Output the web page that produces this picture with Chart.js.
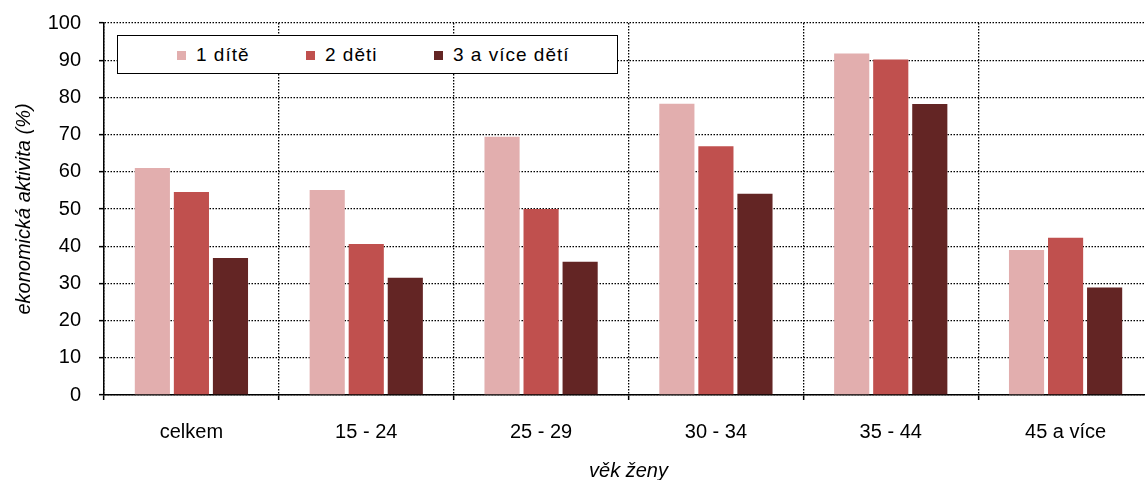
<!DOCTYPE html>
<html>
<head>
<meta charset="utf-8">
<script src="https://cdn.jsdelivr.net/npm/chart.js@4"></script>
<style>
  html, body { margin: 0; padding: 0; background: #fff; overflow: hidden; width: 1145px; height: 480px; }
  #wrap { position: relative; width: 1160px; height: 480px; }
  canvas { display: block; }
  #legend { position: absolute; left: 117px; top: 35px; width: 499px; height: 37px;
    border: 1.5px solid #000; background: #fff; font-family: "Liberation Sans", Arial, sans-serif;
    font-size: 19px; color: #000; }
  .item { position: absolute; top: 0; height: 37px; display: flex; align-items: center; letter-spacing: 1px; white-space: nowrap; }
  .sw { width: 9px; height: 9px; margin-right: 10px; margin-top: 2px; }
</style>
</head>
<body>
<div id="wrap">
  <canvas id="c" width="1160" height="480"></canvas>
  <div id="legend"></div>
</div>
<script>
const categories = ['celkem', '15 - 24', '25 - 29', '30 - 34', '35 - 44', '45 a více'];
const seriesNames = ['1 dítě', '2 děti', '3 a více dětí'];
const oneChild = [61.0, 55.1, 69.4, 78.3, 91.8, 39.0];
const twoChildren = [54.6, 40.6, 50.0, 66.9, 90.2, 42.3];
const threePlus = [36.8, 31.5, 35.8, 54.1, 78.2, 28.9];
const yTicks = [0, 10, 20, 30, 40, 50, 60, 70, 80, 90, 100];
const colors = ['#E2AEAE', '#C0504E', '#632524'];

Chart.defaults.font.family = '"Liberation Sans", Arial, sans-serif';
Chart.defaults.color = '#000';

const bg = {
  id: 'bg',
  beforeDraw(chart) {
    const ctx = chart.ctx;
    ctx.save();
    ctx.fillStyle = '#fff';
    ctx.fillRect(0, 0, chart.width, chart.height);
    ctx.restore();
  }
};

const values = [oneChild, twoChildren, threePlus];
new Chart(document.getElementById('c'), {
  type: 'bar',
  data: {
    labels: categories,
    datasets: seriesNames.map((n, i) => ({
      label: n,
      data: values[i],
      backgroundColor: colors[i],
      borderWidth: 0,
      categoryPercentage: 0.67,
      barPercentage: 0.9
    }))
  },
  options: {
    responsive: false,
    animation: false,
    devicePixelRatio: 1,
    layout: { padding: { top: 23, right: 7, left: 0, bottom: 0 } },
    plugins: { legend: { display: false }, tooltip: { enabled: false } },
    scales: {
      x: {
        offset: true,
        grid: { offset: true, color: '#000', lineWidth: 1.3, tickLength: 5, tickColor: '#000', tickWidth: 1.5, tickBorderDash: [] },
        border: { display: true, color: '#000', width: 1.5, dash: [1.5, 1.5] },
        ticks: { font: { size: 20 }, padding: 20, maxRotation: 0, autoSkip: false },
        title: { display: true, text: 'věk ženy', font: { size: 20, style: 'italic', lineHeight: 0.9 }, padding: { top: 0, bottom: 0 } },
        afterFit(s) { s.height = 85; s.paddingLeft = 0; s.paddingRight = 0; }
      },
      y: {
        min: 0, max: 100,
        afterBuildTicks(s) { s.ticks = yTicks.map(v => ({ value: v })); },
        grid: { color: '#000', lineWidth: 1.3, tickLength: 5, tickColor: '#000', tickWidth: 1.5, tickBorderDash: [] },
        border: { display: true, color: '#000', width: 1.5, dash: [1.5, 1.5] },
        ticks: { font: { size: 20 }, padding: 18 },
        title: { display: true, text: 'ekonomická aktivita (%)', font: { size: 20, style: 'italic', lineHeight: 1.2 }, padding: { top: 12, bottom: 0 } },
        afterFit(s) { s.width = 104; s.paddingTop = 0; s.paddingBottom = 0; }
      }
    }
  },
  plugins: [bg]
});

const legend = document.getElementById('legend');
const itemLefts = [59, 188, 316];
seriesNames.forEach((n, i) => {
  const it = document.createElement('div');
  it.className = 'item';
  it.style.left = itemLefts[i] + 'px';
  const sw = document.createElement('span');
  sw.className = 'sw';
  sw.style.background = colors[i];
  const tx = document.createElement('span');
  tx.textContent = n;
  it.appendChild(sw);
  it.appendChild(tx);
  legend.appendChild(it);
});
</script>
</body>
</html>
